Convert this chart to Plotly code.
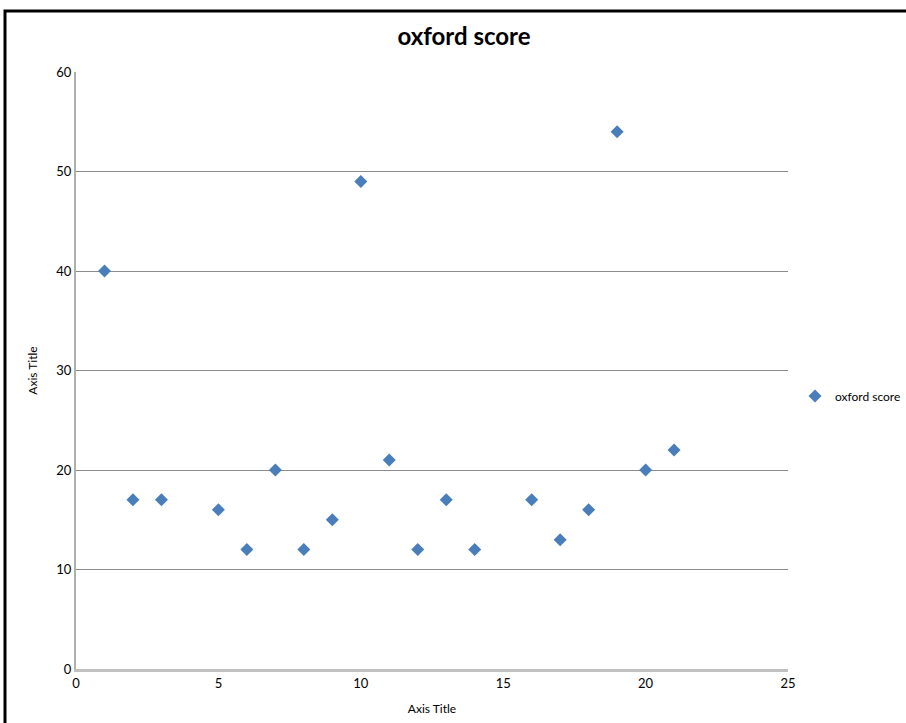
import plotly.graph_objects as go

x_vals = [1, 2, 3, 5, 6, 7, 8, 9, 10, 11, 12, 13, 14, 16, 17, 18, 19, 20, 21]
y_vals = [40, 17, 17, 16, 12, 20, 12, 15, 49, 21, 12, 17, 12, 17, 13, 16, 54, 20, 22]
series_name = "oxford score"

L, R, T, B = 76, 118, 72, 54
W, H = 906, 723
pw, ph = W - L - R, H - T - B

def px_x(p):
    return (p - L) / pw

def px_y(p):
    return (H - B - p) / ph

fig = go.Figure()
fig.add_trace(go.Scatter(
    x=x_vals, y=y_vals, mode="markers", name=series_name,
    marker=dict(symbol="diamond", size=10, color="#4a7ebb"),
))

fig.update_layout(
    width=W, height=H,
    margin=dict(l=L, r=R, t=T, b=B, autoexpand=False),
    paper_bgcolor="white", plot_bgcolor="white",
    font=dict(family="Lato, sans-serif", color="#000000"),
    title=dict(text="<b>oxford score</b>", x=464 / W, xanchor="center",
               y=1 - 37 / H, yanchor="middle", font=dict(size=24)),
    showlegend=True,
    legend=dict(x=px_x(795), xanchor="left", y=px_y(396), yanchor="middle",
                font=dict(size=12), bgcolor="rgba(0,0,0,0)",
                itemwidth=30, tracegroupgap=0),
    xaxis=dict(range=[0, 25], dtick=5, showgrid=False, zeroline=False,
               showline=True, linecolor="#c0c0c0", linewidth=3,
               ticks="", tickfont=dict(size=13),
               title=dict(text="Axis Title", font=dict(size=12), standoff=16)),
    yaxis=dict(range=[0, 60], dtick=10, showgrid=True, gridcolor="#8c8c8c",
               gridwidth=1, zeroline=False, showline=True, linecolor="#b0b0b0",
               linewidth=2, ticks="", tickfont=dict(size=13),
               title=dict(text="Axis Title", font=dict(size=12), standoff=16)),
)

fig.add_shape(type="rect", xref="paper", yref="paper",
              x0=px_x(5), x1=px_x(910), y0=px_y(740), y1=px_y(11),
              line=dict(color="black", width=3), fillcolor="rgba(0,0,0,0)",
              layer="above")

fig.write_html("out.html",
               config={"displayModeBar": False},
               post_script="document.body.style.margin='0';document.body.style.overflow='hidden';")
